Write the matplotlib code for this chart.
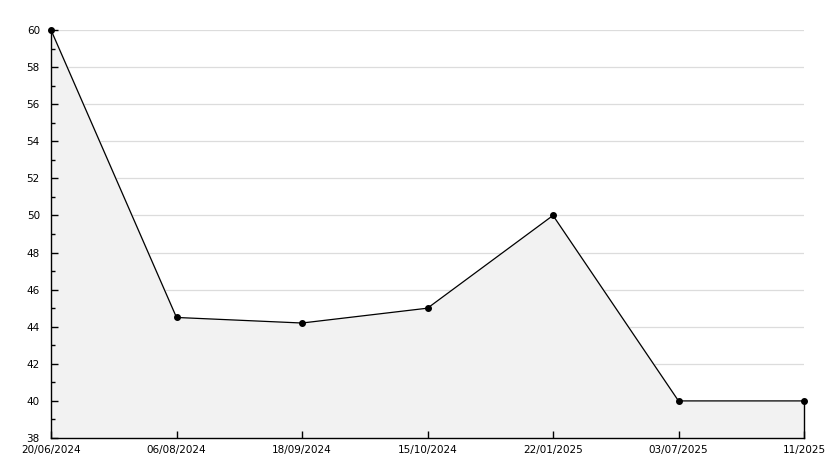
import numpy as np
import matplotlib
matplotlib.use('Agg')
import matplotlib.pyplot as plt
from matplotlib.ticker import MultipleLocator

# Data
dates  = ['20/06/2024', '06/08/2024', '18/09/2024', '15/10/2024',
          '22/01/2025', '03/07/2025', '11/2025']
values = [60, 44.5, 44.2, 45, 50, 40, 40]

x = np.arange(len(dates))

fig = plt.figure(figsize=(8.34, 4.68), dpi=100)
ax = fig.add_axes([51/834, 30/468, 753/834, 408/468])

# horizontal grid under the filled area
for g in range(40, 61, 2):
    ax.axhline(g, color='#dcdcdc', lw=0.9, zorder=0.5)

ax.fill_between(x, values, 38, color='#f2f2f2', zorder=1)
ax.plot(x, values, color='black', lw=0.9, zorder=3)
ax.plot(x, values, 'o', color='black', ms=4, zorder=4, clip_on=False)
ax.plot([x[-1], x[-1]], [38, values[-1]], color='black', lw=1, zorder=3,
        clip_on=False)

ax.set_xlim(0, len(dates) - 1)
ax.set_ylim(38, 60)
ax.yaxis.set_major_locator(MultipleLocator(2))
ax.yaxis.set_minor_locator(MultipleLocator(1))
ax.set_xticks(x)
ax.set_xticklabels(dates)

for s in ['top', 'right']:
    ax.spines[s].set_visible(False)
for s in ['left', 'bottom']:
    ax.spines[s].set_linewidth(1)
    ax.spines[s].set_zorder(5)

ax.tick_params(axis='both', which='major', direction='in', length=5, width=1,
               labelsize=7.5, colors='black')
ax.tick_params(axis='y', which='minor', direction='in', length=3, width=1)
ax.tick_params(axis='y', pad=8)
ax.tick_params(axis='x', pad=5)

fig.savefig('out.png', dpi=100, facecolor='white')
